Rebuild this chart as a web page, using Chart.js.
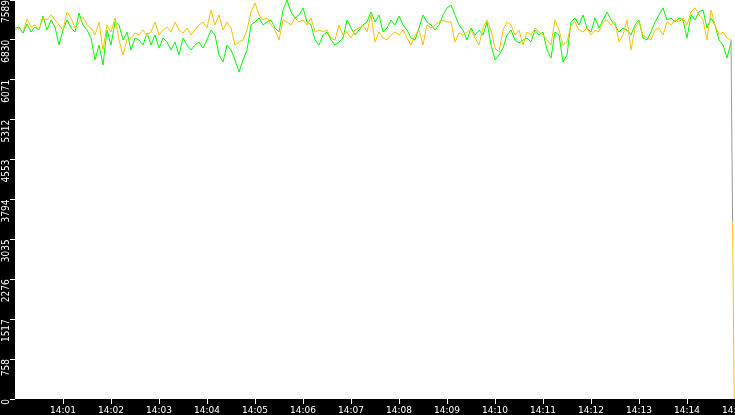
<!DOCTYPE html>
<html>
<head>
<meta charset="utf-8">
<script src="https://cdn.jsdelivr.net/npm/chart.js@4.4.1/dist/chart.umd.min.js"></script>
<style>
html,body{margin:0;padding:0;background:#000;}
canvas{display:block;}
</style>
</head>
<body>
<canvas id="c" width="735" height="415"></canvas>
<script>
// ---- data ----
const sampleStepSec = 5;           // one sample every 5 s starting 14:00:00
const yMax = 7589;
const yTickLabels = ['0','758','1517','2276','3035','3794','4553','5312','6071','6830','7589'];
const xTickLabels = ['14:00','14:01','14:02','14:03','14:04','14:05','14:06','14:07','14:08','14:09','14:10','14:11','14:12','14:13','14:14','14:15'];

const greenValues = [
7056,7075,6961,7133,6980,7075,7018,7285,7018,7209,7075,6733,7018,7209,7056,6980,7342,7114,7018,6866,6448,6733,6353,7018,6733,7171,7114,6828,6980,6638,6866,6828,6733,6961,6733,6923,6676,6866,6790,6638,6790,6543,6866,6733,6638,
6733,6790,6676,6828,7018,6923,6543,6410,6733,6638,6448,6220,6448,6638,7114,7171,7247,7114,7171,7209,7056,6980,7399,7589,7361,7247,7304,7437,7171,7114,6828,6733,6923,6980,6828,6733,6790,6866,7209,7056,6923,7018,7114,7171,7361,
7171,7304,6980,7056,7209,7114,7285,7114,7018,6866,6828,7056,7304,7171,7114,7018,7114,7304,7437,7494,7304,7114,7018,6828,7056,6923,7018,6923,7171,6733,6448,6543,6676,6923,7018,6828,6771,6828,6866,6790,7018,6923,6980,6638,6486,
6980,6923,6410,6543,7171,7247,7114,7304,7056,6980,7247,7056,7209,7361,7209,7114,6980,7056,7018,6923,7114,7209,6866,6828,6980,7171,7304,7437,7209,7247,7171,7247,7209,6866,7304,7209,7361,7399,7056,7247,7114,6828,6733,6486,6790
];
const orangeValues = [
7018,7056,6980,7228,7075,7114,7018,7247,7209,7304,7209,7114,7018,7361,7247,7056,7171,7266,7114,7056,6923,7171,6638,7114,6980,7247,6828,6543,6828,6866,6961,6923,7018,6923,6980,7171,6923,7018,7075,6980,7171,7018,6961,7056,6923,
7018,7114,7171,7056,7399,7114,7304,7018,7171,7056,6733,6790,6828,7018,7361,7532,7304,7209,7247,7114,7018,6828,7209,7171,7114,7247,7171,7209,7114,7247,6980,7018,6980,7018,6866,6828,7114,6923,6980,6866,7018,7056,7114,6980,7304,
6790,6980,6866,6828,6923,6980,6923,7018,6866,6733,6923,7018,6733,7114,7056,7114,7171,7209,7171,7171,6790,6961,6923,6980,7018,6866,6733,7056,7209,7018,6676,6600,7018,7171,7114,6923,7018,6733,6980,6923,7056,6980,6923,6828,6733,
7209,7018,6733,6790,7114,7171,7018,6980,7056,6923,7018,6980,7171,7209,7114,7171,6790,6923,7209,6638,7056,7171,6923,6866,6828,7018,7056,6923,7171,7114,7209,7171,7247,7114,7361,7437,7304,7209,6828,7399,7114,6923,6980,6866,6828
];
// final drop at the right edge (seconds after 14:00, value)
const orangeTailTimes = [897, 899];
const orangeTailValues = [3366, 0];

const greenColor = '#00ff00';
const orangeColor = '#ffc000';
const dropColor = '#9a9a9a';

function toPoints(vals){ return vals.map((v,i)=>({x:i*sampleStepSec, y:v})); }
const greenPts = toPoints(greenValues);
const orangePts = toPoints(orangeValues).concat(orangeTailTimes.map((t,i)=>({x:t,y:orangeTailValues[i]})));

const bgPlugin = {
  id:'bg',
  beforeDraw(chart){
    const {ctx, chartArea:a} = chart;
    ctx.save();
    ctx.fillStyle='#000';
    ctx.fillRect(0,0,chart.width,chart.height);
    ctx.fillStyle='#fff';
    ctx.fillRect(a.left,a.top,a.right-a.left,a.bottom-a.top);
    ctx.restore();
  }
};

new Chart(document.getElementById('c'), {
  type:'line',
  data:{
    datasets:[
      {label:'A', data:orangePts, borderColor:orangeColor, borderWidth:1, pointRadius:0, tension:0,
       segment:{borderColor: c => (c.p1.parsed.y < 4000 && c.p0.parsed.y > 5000) ? dropColor : orangeColor}},
      {label:'B', data:greenPts, borderColor:greenColor, borderWidth:1, pointRadius:0, tension:0}
    ]
  },
  options:{
    responsive:false,
    devicePixelRatio:1,
    animation:false,
    layout:{padding:0},
    plugins:{legend:{display:false}, tooltip:{enabled:false}},
    scales:{
      x:{
        type:'linear', min:0, max:900,
        afterBuildTicks: s => { s.ticks = xTickLabels.map((l,i)=>({value:i*60})); },
        ticks:{color:'#fff', font:{family:'DejaVu Sans', size:9}, padding:1, maxRotation:0, minRotation:0, autoSkip:false,
               callback:(v,i)=> i===0 ? null : xTickLabels[i]},
        grid:{drawOnChartArea:false, tickLength:5, tickColor:'#fff', color:'#fff'},
        border:{display:false},
        afterFit: s => { s.height = 16; s.paddingLeft = 0; s.paddingRight = 0; }
      },
      y:{
        type:'linear', min:0, max:yMax,
        afterBuildTicks: s => { s.ticks = yTickLabels.map((l,i)=>({value:i*yMax/10})); },
        ticks:{color:'#fff', font:{family:"'Liberation Sans Narrow','DejaVu Sans Condensed',sans-serif", size:10}, padding:4,
               minRotation:90, maxRotation:90, autoSkip:false,
               callback:(v,i)=> yTickLabels[i]},
        grid:{drawOnChartArea:false, tickLength:5, tickColor:'#fff', color:'#fff'},
        border:{display:false},
        afterFit: s => { s.width = 15; s.paddingTop = 0; s.paddingBottom = 0; }
      }
    }
  },
  plugins:[bgPlugin]
});
</script>
</body>
</html>
